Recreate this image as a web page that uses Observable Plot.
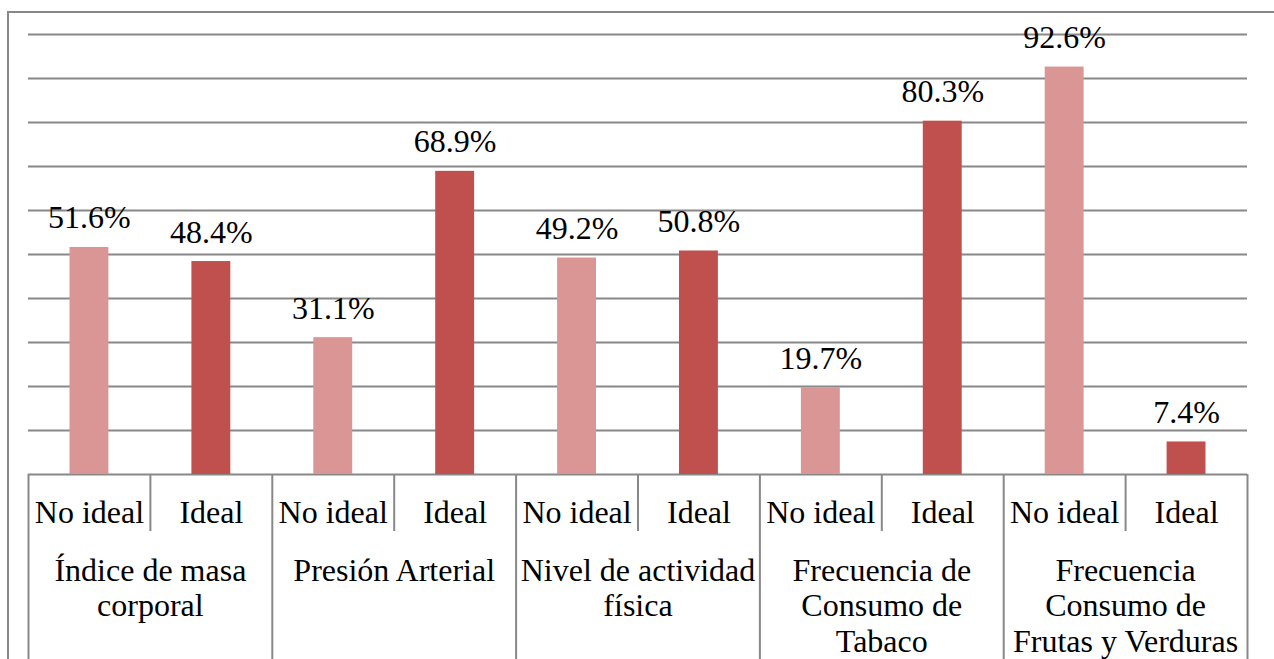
<!DOCTYPE html>
<html>
<head>
<meta charset="utf-8">
<script src="https://cdn.jsdelivr.net/npm/d3@7"></script>
<script src="https://cdn.jsdelivr.net/npm/@observablehq/plot@0.6"></script>
<style>
  html, body { margin: 0; padding: 0; background: #fff; }
  #wrap { position: relative; width: 1274px; height: 659px; overflow: hidden; }
  #border { position: absolute; left: 7px; top: 11px; right: -10px; bottom: -10px;
            border-left: 2px solid #888; border-top: 2px solid #888; pointer-events: none; }
  #chart { position: absolute; left: 0; top: 0; }
  #chart svg text { font-family: "Liberation Serif", "DejaVu Serif", serif; }
</style>
</head>
<body>
<div id="wrap"><div id="chart"></div><div id="border"></div></div>
<script>
// Cardiovascular health indicators: share of "No ideal" vs "Ideal" per factor
const groups = [
  "Índice de masa\ncorporal",
  "Presión Arterial",
  "Nivel de actividad\nfísica",
  "Frecuencia de\nConsumo de\nTabaco",
  "Frecuencia\nConsumo de\nFrutas y Verduras"
];
const statuses = ["No ideal", "Ideal"];
const noIdealValues = [51.6, 31.1, 49.2, 19.7, 92.6];
const idealValues = [48.4, 68.9, 50.8, 80.3, 7.4];
const gridTicks = [10, 20, 30, 40, 50, 60, 70, 80, 90, 100];

const colors = {"No ideal": "#D99694", "Ideal": "#C0504D"};

// One row per bar, laid out in slot order along a linear x scale
const rows = [];
groups.forEach((g, gi) => {
  [noIdealValues[gi], idealValues[gi]].forEach((v, si) => {
    rows.push({group: g, status: statuses[si], value: v, slot: gi * 2 + si});
  });
});
const nSlots = rows.length;

// Category separators below the baseline: short between statuses, long between groups
const boundaries = d3.range(0, nSlots + 1).map(b => ({b, major: b % 2 === 0}));
const groupRows = groups.map((g, gi) => ({group: g, center: gi * 2 + 1}));

const font = "Liberation Serif, DejaVu Serif, serif";
const gray = "#888";

const chart = Plot.plot({
  width: 1274,
  height: 659,
  marginLeft: 28,
  marginRight: 27,
  marginTop: 34,
  marginBottom: 185,
  style: {background: "transparent", fontFamily: font, fontSize: "32px", color: "#000"},
  x: {type: "linear", domain: [0, nSlots], axis: null},
  y: {domain: [0, 100], axis: null},
  marks: [
    Plot.ruleY(gridTicks, {stroke: gray, strokeWidth: 2}),
    Plot.ruleY([0], {stroke: gray, strokeWidth: 2}),
    Plot.rectY(rows, {
      x1: "slot", x2: d => d.slot + 1, y1: 0, y2: "value",
      fill: d => colors[d.status], insetLeft: 41.5, insetRight: 41.5
    }),
    Plot.text(rows, {
      x: d => d.slot + 0.5, y: "value", text: d => d.value.toFixed(1) + "%",
      lineAnchor: "bottom", dy: -19, fill: "#000", fontSize: 32
    }),
    Plot.ruleX(boundaries.filter(d => !d.major), {
      x: "b", y1: 0, y2: 0, stroke: gray, strokeWidth: 2, insetBottom: -57
    }),
    Plot.ruleX(boundaries.filter(d => d.major), {
      x: "b", y1: 0, y2: 0, stroke: gray, strokeWidth: 2, insetBottom: -190
    }),
    Plot.text(rows, {
      x: d => d.slot + 0.5, y: 0, text: "status",
      lineAnchor: "middle", dy: 38, fill: "#000", fontSize: 32
    }),
    Plot.text(groupRows, {
      x: "center", y: 0, text: "group",
      lineAnchor: "top", dy: 81, lineHeight: 1.11, fill: "#000", fontSize: 32
    })
  ]
});
document.getElementById("chart").appendChild(chart);
</script>
</body>
</html>
